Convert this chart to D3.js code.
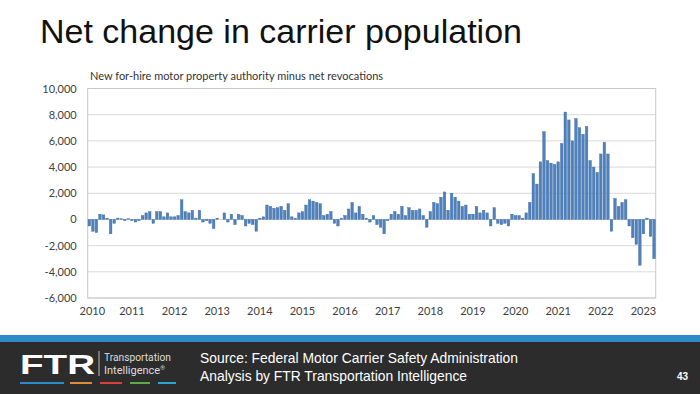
<!DOCTYPE html>
<html>
<head>
<meta charset="utf-8">
<script src="https://cdn.jsdelivr.net/npm/d3@7"></script>
<style>
  html, body { margin: 0; padding: 0; background: #fff; }
  svg { display: block; }
</style>
</head>
<body>
<svg width="700" height="394"></svg>
<script>
// Year labels on the x axis (one every 12 months)
const years = ["2010", "2011", "2012", "2013", "2014", "2015", "2016",
               "2017", "2018", "2019", "2020", "2021", "2022", "2023"];

// Monthly net change (new authority minus net revocations)
const v2010 = [-500, -900, -1000, 400, 350, 100, -1100, -300, 100, 50, -100, 50];
const v2011 = [-100, -200, -100, 300, 500, 600, -300, 600, 600, 200, 500, 200];
const v2012 = [200, 300, 1500, 600, 500, 700, 100, 700, -200, -100, -300, -700];
const v2013 = [100, 0, 500, -200, 400, -400, 400, 300, -500, -300, -400, -900];
const v2014 = [100, 200, 1100, 1000, 850, 900, 1000, 700, 1200, 200, 100, 500];
const v2015 = [600, 1100, 1500, 1400, 1300, 1200, 300, 400, 600, -300, -500, 100];
const v2016 = [300, 800, 1300, 500, 1000, 400, 100, -200, 300, -400, -600, -1100];
const v2017 = [-100, 400, 600, 400, 1000, 300, 900, 700, 700, 800, 300, -600];
const v2018 = [600, 1300, 1200, 1700, 2100, 700, 2000, 1700, 1400, 1000, 1100, 400];
const v2019 = [400, 1000, 500, 700, 500, -500, 900, -300, -400, -300, -500, 400];
const v2020 = [300, 300, 100, 500, 1300, 3500, 2700, 4400, 6700, 4500, 4300, 4200];
const v2021 = [4400, 5800, 8200, 7600, 6000, 7700, 7000, 6500, 7100, 4500, 4000, 3600];
const v2022 = [5000, 5900, 5000, -900, 1600, 1000, 1300, 1500, -500, -1400, -1900, -3500];
const v2023 = [-1100, 100, -1300, -3000];

// Y axis tick values
const yTicks = [-6000, -4000, -2000, 0, 2000, 4000, 6000, 8000, 10000];

const netChange = [].concat(v2010, v2011, v2012, v2013, v2014, v2015, v2016,
                            v2017, v2018, v2019, v2020, v2021, v2022, v2023);

const svg = d3.select("svg");
const svgWidth = +svg.attr("width");
const svgHeight = +svg.attr("height");

const margin = { top: 88.5, right: 44.3, bottom: 96, left: 87.7 };
const width = svgWidth - margin.left - margin.right;
const height = svgHeight - margin.top - margin.bottom;

// Title and subtitle
svg.append("text")
  .attr("x", 40)
  .attr("y", 43)
  .attr("font-family", "Liberation Sans, Arial, sans-serif")
  .attr("font-size", 34)
  .attr("fill", "#111")
  .text("Net change in carrier population");

svg.append("text")
  .attr("x", 90)
  .attr("y", 80)
  .attr("font-family", "Lato, Open Sans, sans-serif")
  .attr("font-size", 11)
  .attr("fill", "#333")
  .text("New for-hire motor property authority minus net revocations");

const g = svg.append("g")
  .attr("transform", `translate(${margin.left},${margin.top})`);

// Scales
const x = d3.scaleBand()
  .domain(d3.range(netChange.length))
  .range([0, width])
  .paddingInner(0.28)
  .paddingOuter(0.1);

const y = d3.scaleLinear()
  .domain([-6000, 10000])
  .range([height, 0]);

// Gridlines
g.selectAll("line.grid")
  .data(yTicks)
  .join("line")
  .attr("class", "grid")
  .attr("x1", 0)
  .attr("x2", width)
  .attr("y1", d => y(d))
  .attr("y2", d => y(d))
  .attr("stroke", "#d9d9d9")
  .attr("stroke-width", 1);

// Plot area border
g.append("rect")
  .attr("width", width)
  .attr("height", height)
  .attr("fill", "none")
  .attr("stroke", "#c8c8c8");

// Bars
g.selectAll("rect.bar")
  .data(netChange)
  .join("rect")
  .attr("class", "bar")
  .attr("x", (d, i) => x(i))
  .attr("y", d => y(Math.max(0, d)))
  .attr("width", x.bandwidth())
  .attr("height", d => Math.abs(y(d) - y(0)))
  .attr("fill", "#4f81bd")
  .attr("stroke", "#3d6aa3")
  .attr("stroke-width", 0.4);

// Y axis
const yAxis = g.append("g")
  .call(d3.axisLeft(y).tickValues(yTicks).tickSize(0).tickPadding(11)
    .tickFormat(d => d3.format(",")(d).replace("\u2212", "-")));
yAxis.select(".domain").remove();
yAxis.selectAll("text")
  .attr("font-family", "Lato, Open Sans, sans-serif")
  .attr("font-size", 11)
  .attr("fill", "#404040");

// X axis (year labels at each January)
const janIdx = years.map((yr, k) => k * 12);
const xAxis = g.append("g")
  .attr("transform", `translate(0, ${height})`)
  .call(d3.axisBottom(x).tickValues(janIdx).tickSize(0).tickPadding(9)
    .tickFormat(i => years[i / 12]));
xAxis.select(".domain").remove();
xAxis.selectAll("text")
  .attr("font-family", "Lato, Open Sans, sans-serif")
  .attr("font-size", 11)
  .attr("fill", "#404040")
  .attr("dx", i => i === 0 ? 3 : 0); // first label sits a little right, as in Excel

// Footer band
svg.append("rect")
  .attr("x", 0).attr("y", 335)
  .attr("width", svgWidth).attr("height", 7)
  .attr("fill", "#2e8bc9");
svg.append("rect")
  .attr("x", 0).attr("y", 342)
  .attr("width", svgWidth).attr("height", svgHeight - 342)
  .attr("fill", "#2c2c2c");

// FTR logo
svg.append("text")
  .attr("transform", "translate(20,374) scale(1.38,1)")
  .attr("font-family", "Liberation Sans, Arial, sans-serif")
  .attr("font-weight", "bold")
  .attr("font-size", 28)
  .attr("fill", "#fff")
  .text("FTR");
svg.append("line")
  .attr("x1", 99).attr("x2", 99)
  .attr("y1", 351).attr("y2", 376)
  .attr("stroke", "#bbb");
svg.append("text")
  .attr("x", 104).attr("y", 361)
  .attr("font-family", "Roboto, sans-serif")
  .attr("font-size", 11)
  .attr("textLength", 67)
  .attr("lengthAdjust", "spacingAndGlyphs")
  .attr("fill", "#ddd")
  .text("Transportation");
const intel = svg.append("text")
  .attr("x", 104).attr("y", 374)
  .attr("font-family", "Roboto, sans-serif")
  .attr("font-size", 11)
  .attr("fill", "#ddd")
  .text("Intelligence");
intel.append("tspan")
  .attr("font-size", 6)
  .attr("dy", -4)
  .text("\u00ae");

const dashColors = ["#2e8bc9", "#e08a3c", "#d8403a", "#5daa48", "#2aa6d6"];
const dashX = [20, 70, 100, 130, 158];
const dashW = [44, 22, 22, 20, 18];
svg.selectAll("rect.dash")
  .data(dashColors)
  .join("rect")
  .attr("class", "dash")
  .attr("x", (d, i) => dashX[i])
  .attr("y", 382)
  .attr("width", (d, i) => dashW[i])
  .attr("height", 2)
  .attr("fill", d => d);

// Source text
svg.append("text")
  .attr("x", 200).attr("y", 363)
  .attr("font-family", "Liberation Sans, Arial, sans-serif")
  .attr("font-size", 14.5)
  .attr("textLength", 318)
  .attr("lengthAdjust", "spacingAndGlyphs")
  .attr("fill", "#fff")
  .text("Source: Federal Motor Carrier Safety Administration");
svg.append("text")
  .attr("x", 200).attr("y", 381)
  .attr("font-family", "Liberation Sans, Arial, sans-serif")
  .attr("font-size", 14.5)
  .attr("textLength", 267)
  .attr("lengthAdjust", "spacingAndGlyphs")
  .attr("fill", "#fff")
  .text("Analysis by FTR Transportation Intelligence");

svg.append("text")
  .attr("x", 677).attr("y", 380)
  .attr("font-family", "Liberation Sans, Arial, sans-serif")
  .attr("font-weight", "bold")
  .attr("font-size", 10)
  .attr("fill", "#fff")
  .text("43");
</script>
</body>
</html>
